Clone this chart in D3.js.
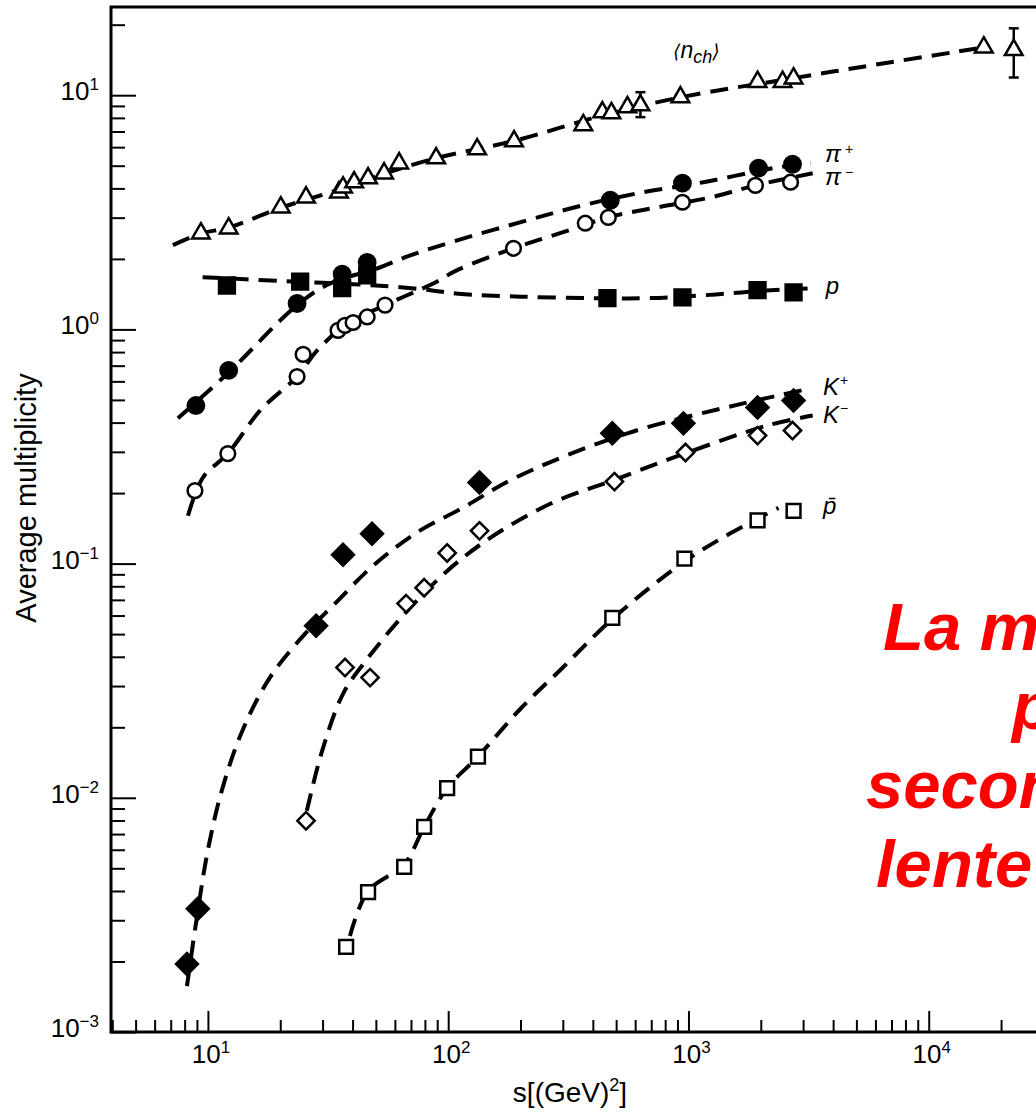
<!DOCTYPE html>
<html>
<head>
<meta charset="utf-8">
<script src="https://cdn.jsdelivr.net/npm/d3@7"></script>
<style>
  body { margin: 0; background: #fff; }
  svg { display: block; font-family: "Liberation Sans", Arial, sans-serif; }
</style>
</head>
<body>
<div id="chart"></div>
<script>
// points: [s in GeV^2, average multiplicity]
const nch = [[9.35, 2.57], [12.2, 2.70], [20.1, 3.32], [25.6, 3.66], [35.1, 3.85], [36.5, 4.04],
  [40.6, 4.25], [46.4, 4.42], [54.1, 4.64], [62.5, 5.12], [89.1, 5.38], [132, 5.88], [188, 6.36],
  [365, 7.45], [438, 8.46], [478, 8.38], [557, 8.89], [631, 9.06], [926, 9.8], [1939, 11.4],
  [2464, 11.4], [2738, 11.8], [16950, 16.0], [22590, 15.6]];
const nchErr = [[631, 8.06, 10.3], [22590, 11.9, 19.3]];
const piPlus = [[8.91, 0.473], [12.2, 0.668], [23.5, 1.29], [36.2, 1.72], [46, 1.93], [473, 3.56],
  [944, 4.21], [1957, 4.88], [2710, 5.07]];
const piMinus = [[8.83, 0.205], [12.1, 0.295], [23.5, 0.629], [24.9, 0.782], [34.8, 0.99], [37.2, 1.04],
  [40.2, 1.07], [46, 1.13], [54.6, 1.27], [187, 2.22], [372, 2.84], [464, 3.01], [944, 3.49],
  [1900, 4.12], [2661, 4.25]];
const proton = [[12.0, 1.54], [24.2, 1.60], [36.2, 1.50], [46, 1.70], [460, 1.36], [944, 1.37],
  [1939, 1.47], [2738, 1.44]];
const kPlus = [[8.18, 0.00195], [9.08, 0.00336], [28.2, 0.0543], [36.5, 0.109], [48.2, 0.134],
  [135, 0.222], [482, 0.360], [953, 0.397], [1939, 0.464], [2738, 0.497]];
const kMinus = [[25.6, 0.00798], [37.2, 0.036], [47.3, 0.0326], [66.8, 0.0675], [79.4, 0.0789],
  [99, 0.111], [135, 0.138], [492, 0.224], [972, 0.298], [1939, 0.352], [2710, 0.370]];
const pBar = [[37.6, 0.00231], [46.4, 0.00396], [65.6, 0.00507], [79.4, 0.00751], [99, 0.0110],
  [133, 0.0150], [482, 0.0587], [962, 0.105], [1939, 0.153], [2738, 0.168]];

// dashed fit curves
const nchFit = [[7.15, 2.29], [9.35, 2.57], [12.2, 2.72], [20, 3.3], [35, 3.95], [50, 4.5], [90, 5.4],
  [190, 6.4], [440, 8.2], [930, 9.8], [2700, 11.8], [6000, 13.5], [17000, 16.0]];
const piPlusFit = [[7.5, 0.417], [12.2, 0.655], [23.5, 1.27], [32.2, 1.57], [50.6, 1.82], [69.5, 2.07],
  [109, 2.40], [213, 2.92], [365, 3.39], [613, 3.81], [1155, 4.25], [2349, 4.92], [3221, 5.12]];
const piMinusFit = [[8.26, 0.160], [9.53, 0.233], [12.1, 0.295], [16.5, 0.451], [23.5, 0.629],
  [28.5, 0.813], [37.2, 1.04], [54.6, 1.27], [86.6, 1.57], [109, 1.79], [187, 2.22], [301, 2.60],
  [464, 3.01], [743, 3.32], [1236, 3.66], [1900, 4.12], [3289, 4.64]];
const protonFit = [[9.5, 1.67], [20, 1.61], [30, 1.58], [50, 1.54], [80, 1.48], [110, 1.42], [200, 1.38],
  [400, 1.36], [700, 1.36], [1300, 1.41], [2000, 1.46], [3300, 1.50]];
const kPlusFit = [[8.18, 0.00157], [9.0, 0.0031], [10.0, 0.0060], [11.5, 0.011], [13.9, 0.0193],
  [18.1, 0.0326], [25.4, 0.0502], [33.8, 0.0675], [48.7, 0.098], [74.3, 0.136], [115, 0.173],
  [191, 0.233], [557, 0.36], [1694, 0.483], [3236, 0.56]];
const kMinusFit = [[25.8, 0.0088], [29.9, 0.0159], [36.5, 0.0278], [45, 0.038], [64.9, 0.060],
  [99, 0.093], [150, 0.129], [266, 0.180], [492, 0.228], [972, 0.296], [2133, 0.389], [3289, 0.429]];
const pBarFit = [[39, 0.00257], [46.4, 0.0040], [65.6, 0.0052], [79.4, 0.0075], [99, 0.011],
  [133, 0.015], [200, 0.024], [300, 0.036], [482, 0.058], [962, 0.102], [1500, 0.135], [2370, 0.173]];

const xMajor = [1e1, 1e2, 1e3, 1e4];
const yMajor = [1e-3, 1e-2, 1e-1, 1e0, 1e1];
const curveLabels = [
  { text: 'π', sup: '+', s: 3697, v: 5.2 },
  { text: 'π', sup: '−', s: 3697, v: 4.12 },
  { text: 'p', sup: '', s: 3730, v: 1.42 },
  { text: 'K', sup: '+', s: 3628, v: 0.525 },
  { text: 'K', sup: '−', s: 3628, v: 0.398 },
  { text: 'p\u0304', sup: '', s: 3628, v: 0.163 }
];
const redLines = ['La molteplicità di', 'particelle', 'secondarie', 'lente'];

const width = 1036, height = 1112;
const x = d3.scaleLog().domain([3.95, 1e5]).range([111, 1169]);
const y = d3.scaleLog().domain([1e-3, 23.8]).range([1032, 7]);

const svg = d3.select('#chart').append('svg')
  .attr('width', width)
  .attr('height', height);

function minors(decades, max) {
  const out = [];
  decades.forEach(d => { for (let k = 2; k <= 9; k++) out.push(d * k); });
  return out.filter(v => v <= max);
}
const xMinor = minors([1, 10, 100, 1000, 10000], 1e5).filter(v => v >= 3.95);
const yMinor = minors([1e-3, 1e-2, 1e-1, 1, 10], 23.8);

// ticks (pointing inward)
function tickAxis(gen, vals, size) {
  return g => g.call(gen.tickValues(vals).tickSize(size).tickFormat(''))
    .call(g => g.select('.domain').remove())
    .call(g => g.selectAll('.tick line').attr('stroke', '#000').attr('stroke-width', 2));
}
svg.append('g').attr('transform', `translate(0,${y.range()[0]})`)
  .call(tickAxis(d3.axisBottom(x), xMinor, -12));
svg.append('g').attr('transform', `translate(0,${y.range()[0]})`)
  .call(tickAxis(d3.axisBottom(x), xMajor, -21));
svg.append('g').attr('transform', `translate(${x.range()[0]},0)`)
  .call(tickAxis(d3.axisLeft(y), yMinor, -14));
svg.append('g').attr('transform', `translate(${x.range()[0]},0)`)
  .call(tickAxis(d3.axisLeft(y), yMajor, -25));

// frame
svg.append('rect')
  .attr('x', x.range()[0]).attr('y', y.range()[1])
  .attr('width', x.range()[1] - x.range()[0])
  .attr('height', y.range()[0] - y.range()[1])
  .attr('fill', 'none').attr('stroke', '#000').attr('stroke-width', 3);

// tick labels
const expo = v => Math.round(Math.log10(v));
const supStr = e => (e < 0 ? '−' : '') + Math.abs(e);
svg.append('g').selectAll('text').data(xMajor).join('text')
  .attr('x', d => x(d) + 3).attr('y', 1063)
  .attr('text-anchor', 'middle').style('font-size', '26px')
  .text('10')
  .append('tspan').attr('dy', -10).style('font-size', '17px').text(d => supStr(expo(d)));
svg.append('g').selectAll('text').data(yMajor).join('text')
  .attr('x', 99).attr('y', d => y(d) + 5)
  .attr('text-anchor', 'end').style('font-size', '26px')
  .text('10')
  .append('tspan').attr('dy', -10).style('font-size', '17px').text(d => supStr(expo(d)));

// axis titles
svg.append('text')
  .attr('transform', `translate(36,498) rotate(-90)`)
  .attr('text-anchor', 'middle').style('font-size', '29px')
  .text('Average multiplicity');
svg.append('text')
  .attr('x', 570).attr('y', 1102)
  .attr('text-anchor', 'middle').style('font-size', '28px')
  .text('s[(GeV)')
  .call(t => t.append('tspan').attr('dy', -11).style('font-size', '18px').text('2'))
  .call(t => t.append('tspan').attr('dy', 11).text(']'));

// dashed fits
const line = d3.line().x(d => x(d[0])).y(d => y(d[1])).curve(d3.curveCatmullRom.alpha(0.5));
[nchFit, piPlusFit, piMinusFit, protonFit, kPlusFit, kMinusFit, pBarFit].forEach(f => {
  svg.append('path').datum(f).attr('d', line)
    .attr('fill', 'none').attr('stroke', '#000')
    .attr('stroke-width', 4).attr('stroke-dasharray', '18,10');
});

// error bars
const eb = svg.append('g').attr('stroke', '#000').attr('stroke-width', 2.5);
nchErr.forEach(([s, lo, hi]) => {
  eb.append('line').attr('x1', x(s)).attr('x2', x(s)).attr('y1', y(lo)).attr('y2', y(hi));
  [lo, hi].forEach(v => eb.append('line')
    .attr('x1', x(s) - 5).attr('x2', x(s) + 5).attr('y1', y(v)).attr('y2', y(v)));
});

// markers
const markers = [
  { data: nch, type: d3.symbolTriangle, size: 135, fill: '#fff', rot: 0 },
  { data: piMinus, type: d3.symbolCircle, size: 170, fill: '#fff', rot: 0 },
  { data: piPlus, type: d3.symbolCircle, size: 210, fill: '#000', rot: 0 },
  { data: proton, type: d3.symbolSquare, size: 250, fill: '#000', rot: 0 },
  { data: kPlus, type: d3.symbolSquare, size: 240, fill: '#000', rot: 45 },
  { data: kMinus, type: d3.symbolSquare, size: 150, fill: '#fff', rot: 45 },
  { data: pBar, type: d3.symbolSquare, size: 190, fill: '#fff', rot: 0 }
];
markers.forEach(m => {
  svg.append('g').selectAll('path').data(m.data).join('path')
    .attr('d', d3.symbol().type(m.type).size(m.size))
    .attr('transform', d => `translate(${x(d[0])},${y(d[1])}) rotate(${m.rot})`)
    .attr('fill', m.fill).attr('stroke', '#000').attr('stroke-width', 2.5);
});

// curve labels
svg.append('g').selectAll('text').data(curveLabels).join('text')
  .attr('x', d => x(d.s)).attr('y', d => y(d.v))
  .style('font-size', '24px').style('font-style', 'italic')
  .text(d => d.text)
  .append('tspan')
  .attr('dx', d => d.text === 'π' ? 4 : 1).attr('dy', d => d.text === 'π' ? -8 : -10)
  .style('font-size', '14px').style('font-style', 'normal')
  .text(d => d.sup);

const nl = svg.append('text')
  .attr('x', x(862)).attr('y', y(14.4))
  .style('font-size', '23px').style('font-style', 'italic');
nl.append('tspan').style('font-family', 'DejaVu Sans').style('font-size', '19px').text('⟨');
nl.append('tspan').text('n');
nl.append('tspan').attr('dy', 5).style('font-size', '18px').text('ch');
nl.append('tspan').attr('dy', -5).style('font-family', 'DejaVu Sans').style('font-size', '19px').text('⟩');

// red annotation (cut at the page edge)
const redX = [883, 1012, 866, 876];
svg.append('g').selectAll('text').data(redLines).join('text')
  .attr('x', (d, i) => redX[i]).attr('y', (d, i) => 650 + i * 79)
  .attr('fill', '#ff0000')
  .style('font-size', '67px').style('font-weight', 'bold').style('font-style', 'italic')
  .text(d => d);
</script>
</body>
</html>
